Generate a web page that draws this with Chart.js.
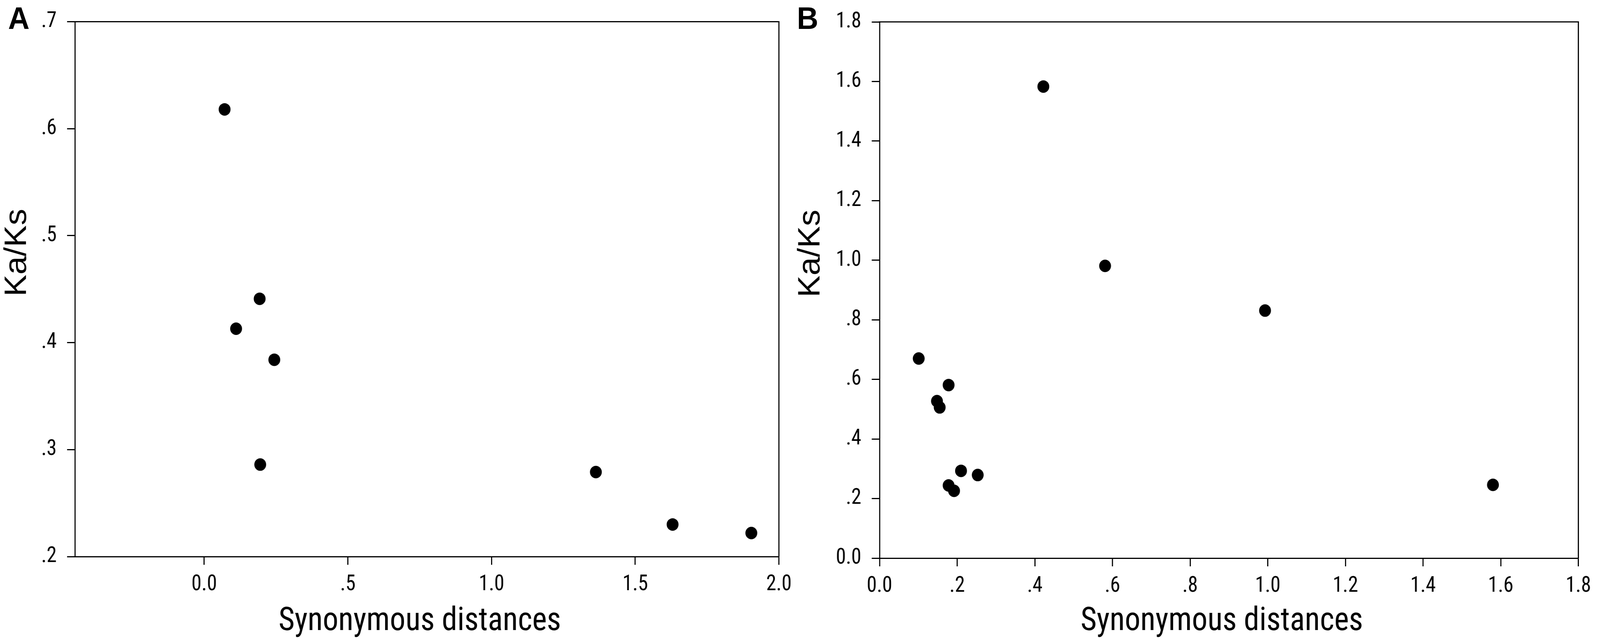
<!DOCTYPE html>
<html>
<head>
<meta charset="utf-8">
<script src="https://cdn.jsdelivr.net/npm/chart.js@4.4.1/dist/chart.umd.min.js"></script>
<style>
  html, body { margin: 0; padding: 0; background: #fff; overflow: hidden; }
  #wrap { position: relative; width: 4317px; height: 1640px; transform-origin: 0 0; }
  canvas { position: absolute; top: 0; }
  #chartA { left: 0; }
  #chartB { left: 2130px; }
  .panel { position: absolute; top: 7px; font: bold 80px 'Liberation Sans', Arial, sans-serif; line-height: 1; color: #000; }
</style>
</head>
<body>
<div id="wrap">
  <canvas id="chartA" width="2160" height="1640"></canvas>
  <canvas id="chartB" width="2187" height="1640"></canvas>
  <div class="panel" style="left:22px">A</div>
  <div class="panel" style="left:2150px">B</div>
</div>
<script>
// Panel A values
const synDistA = [0.071, 0.193, 0.111, 0.244, 0.195, 1.363, 1.630, 1.904];
const kaKsA = [0.618, 0.441, 0.413, 0.384, 0.286, 0.279, 0.230, 0.222];

// Panel B values
const synDistB = [0.422, 0.581, 0.993, 0.101, 0.178, 0.148, 0.155, 0.210, 0.253, 0.178, 0.192, 1.580];
const kaKsB = [1.583, 0.981, 0.831, 0.670, 0.581, 0.527, 0.506, 0.293, 0.279, 0.244, 0.226, 0.246];

// Tick values and labels
const xTicksA = [0, 0.5, 1.0, 1.5, 2.0];
const xLabelsA = ['0.0', '.5', '1.0', '1.5', '2.0'];
const yTicksA = [0.2, 0.3, 0.4, 0.5, 0.6, 0.7];
const yLabelsA = ['.2', '.3', '.4', '.5', '.6', '.7'];
const xTicksB = [0, 0.2, 0.4, 0.6, 0.8, 1.0, 1.2, 1.4, 1.6, 1.8];
const xLabelsB = ['0.0', '.2', '.4', '.6', '.8', '1.0', '1.2', '1.4', '1.6', '1.8'];
const yTicksB = [0, 0.2, 0.4, 0.6, 0.8, 1.0, 1.2, 1.4, 1.6, 1.8];
const yLabelsB = ['0.0', '.2', '.4', '.6', '.8', '1.0', '1.2', '1.4', '1.6', '1.8'];

const narrow = "'Roboto Condensed', 'DejaVu Sans Condensed', sans-serif";
const regular = "'Liberation Sans', Arial, sans-serif";

// the figure is laid out at 4317x1640; fit it into the real window
const wrap = document.getElementById('wrap');
const sx = Math.min(1, window.innerWidth / 4317);
const sy = Math.min(1, window.innerHeight / 1640);
wrap.style.transform = 'scale(' + sx + ',' + sy + ')';

// draws the top and right sides of the box
const framePlugin = {
    id: 'frame',
    afterDraw(chart) {
        const a = chart.chartArea;
        const ctx = chart.ctx;
        ctx.save();
        ctx.strokeStyle = '#000';
        ctx.lineWidth = 3;
        ctx.beginPath();
        ctx.moveTo(a.left - 1.5, a.top);
        ctx.lineTo(a.right, a.top);
        ctx.lineTo(a.right, a.bottom + 1.5);
        ctx.stroke();
        ctx.restore();
    }
};

function makeChart(id, xs, ys, opts) {
    const points = xs.map((x, i) => ({ x: x, y: ys[i] }));
    const ctx = document.getElementById(id).getContext('2d');
    return new Chart(ctx, {
        type: 'scatter',
        data: {
            datasets: [{
                data: points,
                backgroundColor: '#000',
                borderWidth: 0,
                pointRadius: 16,
                pointHoverRadius: 16
            }]
        },
        options: {
            responsive: false,
            animation: false,
            devicePixelRatio: 1,
            layout: { padding: opts.padding },
            plugins: { legend: { display: false }, tooltip: { enabled: false } },
            scales: {
                x: {
                    type: 'linear',
                    min: opts.xMin,
                    max: opts.xMax,
                    afterBuildTicks: s => { s.ticks = opts.xTicks.map(v => ({ value: v })); },
                    afterFit: s => { s.height = opts.xHeight; },
                    ticks: {
                        autoSkip: false,
                        maxRotation: 0,
                        padding: 24,
                        color: '#000',
                        font: { family: narrow, size: 55, lineHeight: 1 },
                        callback: (v, i) => opts.xLabels[i]
                    },
                    grid: { display: true, drawOnChartArea: false, drawTicks: true, tickLength: 21, tickWidth: 3, color: '#000' },
                    border: { display: true, width: 3, color: '#000' },
                    title: {
                        display: true,
                        text: 'Synonymous distances\u00a0\u00a0',
                        color: '#000',
                        font: { family: narrow, size: 84, lineHeight: 1 },
                        padding: { top: 0, bottom: 7 }
                    }
                },
                y: {
                    type: 'linear',
                    min: opts.yMin,
                    max: opts.yMax,
                    afterBuildTicks: s => { s.ticks = opts.yTicks.map(v => ({ value: v })); },
                    afterFit: s => { s.width = opts.yWidth; },
                    ticks: {
                        autoSkip: false,
                        padding: 28,
                        color: '#000',
                        font: { family: narrow, size: 55, lineHeight: 1 },
                        callback: (v, i) => opts.yLabels[i]
                    },
                    grid: { display: true, drawOnChartArea: false, drawTicks: true, tickLength: 21, tickWidth: 3, color: '#000' },
                    border: { display: true, width: 3, color: '#000' },
                    title: {
                        display: true,
                        text: '\u00a0\u00a0\u00a0\u00a0\u00a0\u00a0\u00a0\u00a0Ka/Ks',
                        color: '#000',
                        font: { family: regular, size: 84, lineHeight: 1 },
                        padding: { top: opts.titlePad, bottom: 0 }
                    }
                }
            }
        },
        plugins: [framePlugin]
    });
}

makeChart('chartA', synDistA, kaKsA, {
    xMin: -0.45, xMax: 2.0, yMin: 0.2, yMax: 0.7,
    xTicks: xTicksA, xLabels: xLabelsA, yTicks: yTicksA, yLabels: yLabelsA,
    padding: { left: 0, top: 51, right: 53, bottom: 0 },
    yWidth: 202, xHeight: 216, titlePad: 5
});

makeChart('chartB', synDistB, kaKsB, {
    xMin: 0, xMax: 1.8, yMin: 0, yMax: 1.8,
    xTicks: xTicksB, xLabels: xLabelsB, yTicks: yTicksB, yLabels: yLabelsB,
    padding: { left: 0, top: 56, right: 39, bottom: 0 },
    yWidth: 243, xHeight: 212, titlePad: 16
});
</script>
</body>
</html>
